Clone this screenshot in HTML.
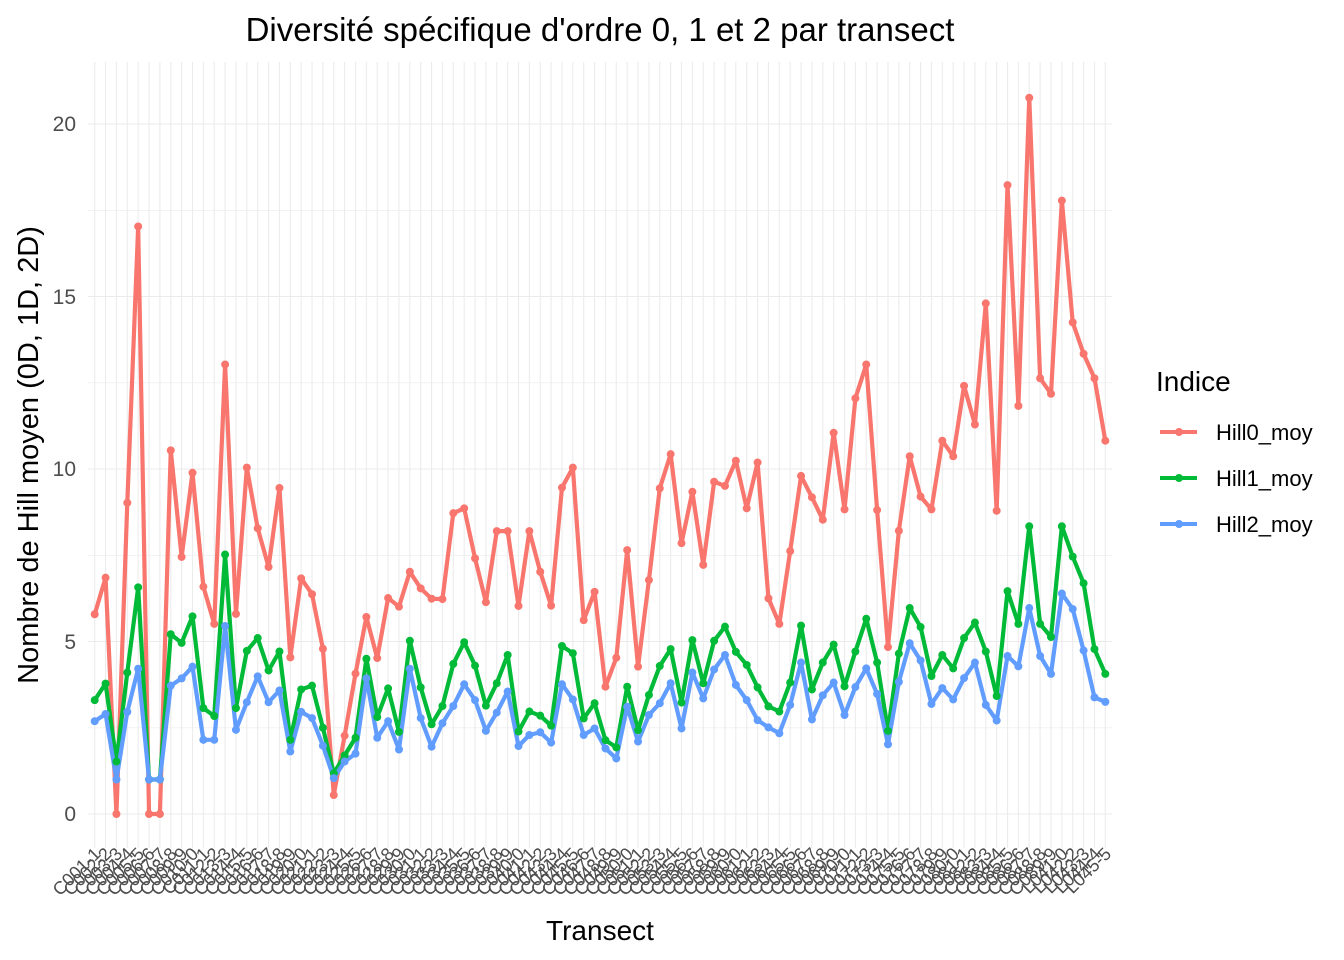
<!DOCTYPE html>
<html><head><meta charset="utf-8"><style>
html,body{margin:0;padding:0;background:#fff;}
svg{display:block;font-family:"Liberation Sans",Arial,sans-serif;}
</style></head><body>
<svg width="1344" height="960" viewBox="0 0 1344 960" xmlns="http://www.w3.org/2000/svg">
<defs>
<pattern id="vg" patternUnits="userSpaceOnUse" x="94.15" y="0" width="10.867" height="10">
<rect x="0" y="0" width="1.1" height="10" fill="#ebebeb"/>
</pattern>
</defs>
<rect width="1344" height="960" fill="#fff"/>
<g stroke="#ebebeb" stroke-width="0.55">
<line x1="88" x2="1112" y1="727.8" y2="727.8"/>
<line x1="88" x2="1112" y1="555.3" y2="555.3"/>
<line x1="88" x2="1112" y1="382.8" y2="382.8"/>
<line x1="88" x2="1112" y1="210.3" y2="210.3"/>
</g>
<g stroke="#ebebeb" stroke-width="1.1">
<line x1="88" x2="1112" y1="814" y2="814"/>
<line x1="88" x2="1112" y1="641.5" y2="641.5"/>
<line x1="88" x2="1112" y1="469" y2="469"/>
<line x1="88" x2="1112" y1="296.5" y2="296.5"/>
<line x1="88" x2="1112" y1="124" y2="124"/>
</g>
<rect x="94" y="62" width="1012" height="786" fill="url(#vg)"/>

<g transform="translate(94.7,814) scale(10.867,-34.5)" fill="none" stroke-linejoin="round">
<polyline vector-effect="non-scaling-stroke" stroke="#F8766D" stroke-width="4.2" points="0,5.79 1,6.85 2,0 3,9.02 4,17.03 5,0 6,0 7,10.54 8,7.45 9,9.89 10,6.59 11,5.51 12,13.03 13,5.8 14,10.04 15,8.28 16,7.16 17,9.45 18,4.54 19,6.83 20,6.37 21,4.79 22,0.55 23,2.27 24,4.07 25,5.71 26,4.52 27,6.26 28,6.01 29,7.02 30,6.54 31,6.24 32,6.23 33,8.72 34,8.86 35,7.41 36,6.14 37,8.2 38,8.2 39,6.03 40,8.2 41,7.02 42,6.04 43,9.46 44,10.04 45,5.62 46,6.44 47,3.69 48,4.53 49,7.65 50,4.27 51,6.78 52,9.44 53,10.43 54,7.85 55,9.34 56,7.22 57,9.63 58,9.51 59,10.24 60,8.86 61,10.19 62,6.25 63,5.51 64,7.62 65,9.8 66,9.18 67,8.53 68,11.05 69,8.83 70,12.05 71,13.03 72,8.81 73,4.84 74,8.21 75,10.37 76,9.2 77,8.83 78,10.82 79,10.37 80,12.41 81,11.29 82,14.8 83,8.79 84,18.23 85,11.83 86,20.76 87,12.63 88,12.18 89,17.78 90,14.25 91,13.34 92,12.63 93,10.82"/>
<polyline vector-effect="non-scaling-stroke" stroke="#00BA38" stroke-width="4.2" points="0,3.3 1,3.78 2,1.52 3,4.1 4,6.57 5,1.0 6,1.0 7,5.21 8,4.96 9,5.73 10,3.07 11,2.84 12,7.52 13,3.07 14,4.73 15,5.1 16,4.16 17,4.71 18,2.15 19,3.61 20,3.72 21,2.5 22,1.18 23,1.7 24,2.21 25,4.5 26,2.81 27,3.64 28,2.38 29,5.02 30,3.67 31,2.6 32,3.13 33,4.35 34,4.98 35,4.3 36,3.14 37,3.79 38,4.61 39,2.39 40,2.97 41,2.85 42,2.56 43,4.87 44,4.66 45,2.77 46,3.21 47,2.14 48,1.93 49,3.69 50,2.43 51,3.45 52,4.29 53,4.78 54,3.23 55,5.04 56,3.79 57,5.02 58,5.43 59,4.7 60,4.32 61,3.67 62,3.12 63,2.97 64,3.81 65,5.46 66,3.61 67,4.39 68,4.91 69,3.7 70,4.71 71,5.66 72,4.39 73,2.41 74,4.65 75,5.97 76,5.42 77,4.0 78,4.61 79,4.22 80,5.1 81,5.55 82,4.71 83,3.42 84,6.46 85,5.51 86,8.34 87,5.51 88,5.13 89,8.34 90,7.46 91,6.69 92,4.78 93,4.06"/>
<polyline vector-effect="non-scaling-stroke" stroke="#619CFF" stroke-width="4.2" points="0,2.69 1,2.9 2,1.0 3,2.96 4,4.21 5,1.0 6,1.0 7,3.72 8,3.93 9,4.27 10,2.15 11,2.15 12,5.45 13,2.44 14,3.24 15,3.99 16,3.24 17,3.58 18,1.81 19,2.96 20,2.78 21,1.98 22,1.04 23,1.52 24,1.75 25,3.93 26,2.21 27,2.69 28,1.87 29,4.21 30,2.78 31,1.95 32,2.63 33,3.13 34,3.76 35,3.3 36,2.41 37,2.94 38,3.55 39,1.97 40,2.29 41,2.37 42,2.07 43,3.76 44,3.32 45,2.29 46,2.48 47,1.9 48,1.61 49,3.11 50,2.1 51,2.87 52,3.21 53,3.79 54,2.48 55,4.1 56,3.35 57,4.19 58,4.61 59,3.74 60,3.3 61,2.72 62,2.51 63,2.34 64,3.16 65,4.39 66,2.74 67,3.44 68,3.81 69,2.87 70,3.68 71,4.22 72,3.48 73,2.02 74,3.83 75,4.95 76,4.45 77,3.19 78,3.65 79,3.32 80,3.94 81,4.39 82,3.16 83,2.71 84,4.58 85,4.28 86,5.97 87,4.58 88,4.06 89,6.39 90,5.94 91,4.74 92,3.38 93,3.25"/>
<g stroke-linecap="round" stroke-width="8">
<path vector-effect="non-scaling-stroke" stroke="#F8766D" d="M0 5.79h0M1 6.85h0M2 0h0M3 9.02h0M4 17.03h0M5 0h0M6 0h0M7 10.54h0M8 7.45h0M9 9.89h0M10 6.59h0M11 5.51h0M12 13.03h0M13 5.8h0M14 10.04h0M15 8.28h0M16 7.16h0M17 9.45h0M18 4.54h0M19 6.83h0M20 6.37h0M21 4.79h0M22 0.55h0M23 2.27h0M24 4.07h0M25 5.71h0M26 4.52h0M27 6.26h0M28 6.01h0M29 7.02h0M30 6.54h0M31 6.24h0M32 6.23h0M33 8.72h0M34 8.86h0M35 7.41h0M36 6.14h0M37 8.2h0M38 8.2h0M39 6.03h0M40 8.2h0M41 7.02h0M42 6.04h0M43 9.46h0M44 10.04h0M45 5.62h0M46 6.44h0M47 3.69h0M48 4.53h0M49 7.65h0M50 4.27h0M51 6.78h0M52 9.44h0M53 10.43h0M54 7.85h0M55 9.34h0M56 7.22h0M57 9.63h0M58 9.51h0M59 10.24h0M60 8.86h0M61 10.19h0M62 6.25h0M63 5.51h0M64 7.62h0M65 9.8h0M66 9.18h0M67 8.53h0M68 11.05h0M69 8.83h0M70 12.05h0M71 13.03h0M72 8.81h0M73 4.84h0M74 8.21h0M75 10.37h0M76 9.2h0M77 8.83h0M78 10.82h0M79 10.37h0M80 12.41h0M81 11.29h0M82 14.8h0M83 8.79h0M84 18.23h0M85 11.83h0M86 20.76h0M87 12.63h0M88 12.18h0M89 17.78h0M90 14.25h0M91 13.34h0M92 12.63h0M93 10.82h0"/>
<path vector-effect="non-scaling-stroke" stroke="#00BA38" d="M0 3.3h0M1 3.78h0M2 1.52h0M3 4.1h0M4 6.57h0M5 1.0h0M6 1.0h0M7 5.21h0M8 4.96h0M9 5.73h0M10 3.07h0M11 2.84h0M12 7.52h0M13 3.07h0M14 4.73h0M15 5.1h0M16 4.16h0M17 4.71h0M18 2.15h0M19 3.61h0M20 3.72h0M21 2.5h0M22 1.18h0M23 1.7h0M24 2.21h0M25 4.5h0M26 2.81h0M27 3.64h0M28 2.38h0M29 5.02h0M30 3.67h0M31 2.6h0M32 3.13h0M33 4.35h0M34 4.98h0M35 4.3h0M36 3.14h0M37 3.79h0M38 4.61h0M39 2.39h0M40 2.97h0M41 2.85h0M42 2.56h0M43 4.87h0M44 4.66h0M45 2.77h0M46 3.21h0M47 2.14h0M48 1.93h0M49 3.69h0M50 2.43h0M51 3.45h0M52 4.29h0M53 4.78h0M54 3.23h0M55 5.04h0M56 3.79h0M57 5.02h0M58 5.43h0M59 4.7h0M60 4.32h0M61 3.67h0M62 3.12h0M63 2.97h0M64 3.81h0M65 5.46h0M66 3.61h0M67 4.39h0M68 4.91h0M69 3.7h0M70 4.71h0M71 5.66h0M72 4.39h0M73 2.41h0M74 4.65h0M75 5.97h0M76 5.42h0M77 4.0h0M78 4.61h0M79 4.22h0M80 5.1h0M81 5.55h0M82 4.71h0M83 3.42h0M84 6.46h0M85 5.51h0M86 8.34h0M87 5.51h0M88 5.13h0M89 8.34h0M90 7.46h0M91 6.69h0M92 4.78h0M93 4.06h0"/>
<path vector-effect="non-scaling-stroke" stroke="#619CFF" d="M0 2.69h0M1 2.9h0M2 1.0h0M3 2.96h0M4 4.21h0M5 1.0h0M6 1.0h0M7 3.72h0M8 3.93h0M9 4.27h0M10 2.15h0M11 2.15h0M12 5.45h0M13 2.44h0M14 3.24h0M15 3.99h0M16 3.24h0M17 3.58h0M18 1.81h0M19 2.96h0M20 2.78h0M21 1.98h0M22 1.04h0M23 1.52h0M24 1.75h0M25 3.93h0M26 2.21h0M27 2.69h0M28 1.87h0M29 4.21h0M30 2.78h0M31 1.95h0M32 2.63h0M33 3.13h0M34 3.76h0M35 3.3h0M36 2.41h0M37 2.94h0M38 3.55h0M39 1.97h0M40 2.29h0M41 2.37h0M42 2.07h0M43 3.76h0M44 3.32h0M45 2.29h0M46 2.48h0M47 1.9h0M48 1.61h0M49 3.11h0M50 2.1h0M51 2.87h0M52 3.21h0M53 3.79h0M54 2.48h0M55 4.1h0M56 3.35h0M57 4.19h0M58 4.61h0M59 3.74h0M60 3.3h0M61 2.72h0M62 2.51h0M63 2.34h0M64 3.16h0M65 4.39h0M66 2.74h0M67 3.44h0M68 3.81h0M69 2.87h0M70 3.68h0M71 4.22h0M72 3.48h0M73 2.02h0M74 3.83h0M75 4.95h0M76 4.45h0M77 3.19h0M78 3.65h0M79 3.32h0M80 3.94h0M81 4.39h0M82 3.16h0M83 2.71h0M84 4.58h0M85 4.28h0M86 5.97h0M87 4.58h0M88 4.06h0M89 6.39h0M90 5.94h0M91 4.74h0M92 3.38h0M93 3.25h0"/>
</g>
</g>

<g fill="#4d4d4d" font-size="21" text-anchor="end">
<text x="76" y="821">0</text>
<text x="76" y="649">5</text>
<text x="76" y="476">10</text>
<text x="76" y="304">15</text>
<text x="76" y="131">20</text>
</g>

<g fill="#4d4d4d" font-size="18" text-anchor="end">
<text transform="translate(101.7,855) rotate(-45)">C001-1</text>
<text transform="translate(112.6,855) rotate(-45)">C002-2</text>
<text transform="translate(123.4,855) rotate(-45)">C003-3</text>
<text transform="translate(134.3,855) rotate(-45)">C004-4</text>
<text transform="translate(145.2,855) rotate(-45)">C005-5</text>
<text transform="translate(156.0,855) rotate(-45)">C006-6</text>
<text transform="translate(166.9,855) rotate(-45)">C007-7</text>
<text transform="translate(177.8,855) rotate(-45)">C008-8</text>
<text transform="translate(188.6,855) rotate(-45)">C009-9</text>
<text transform="translate(199.5,855) rotate(-45)">C010-0</text>
<text transform="translate(210.4,855) rotate(-45)">C011-1</text>
<text transform="translate(221.2,855) rotate(-45)">C012-2</text>
<text transform="translate(232.1,855) rotate(-45)">C013-3</text>
<text transform="translate(243.0,855) rotate(-45)">C014-4</text>
<text transform="translate(253.8,855) rotate(-45)">C015-5</text>
<text transform="translate(264.7,855) rotate(-45)">C016-6</text>
<text transform="translate(275.6,855) rotate(-45)">C017-7</text>
<text transform="translate(286.4,855) rotate(-45)">C018-8</text>
<text transform="translate(297.3,855) rotate(-45)">C019-9</text>
<text transform="translate(308.2,855) rotate(-45)">C020-0</text>
<text transform="translate(319.0,855) rotate(-45)">C021-1</text>
<text transform="translate(329.9,855) rotate(-45)">C022-2</text>
<text transform="translate(340.8,855) rotate(-45)">C023-3</text>
<text transform="translate(351.6,855) rotate(-45)">C024-4</text>
<text transform="translate(362.5,855) rotate(-45)">C025-5</text>
<text transform="translate(373.4,855) rotate(-45)">C026-6</text>
<text transform="translate(384.2,855) rotate(-45)">C027-7</text>
<text transform="translate(395.1,855) rotate(-45)">C028-8</text>
<text transform="translate(406.0,855) rotate(-45)">C029-9</text>
<text transform="translate(416.8,855) rotate(-45)">C030-0</text>
<text transform="translate(427.7,855) rotate(-45)">C031-1</text>
<text transform="translate(438.6,855) rotate(-45)">C032-2</text>
<text transform="translate(449.4,855) rotate(-45)">C033-3</text>
<text transform="translate(460.3,855) rotate(-45)">C034-4</text>
<text transform="translate(471.2,855) rotate(-45)">C035-5</text>
<text transform="translate(482.0,855) rotate(-45)">C036-6</text>
<text transform="translate(492.9,855) rotate(-45)">C037-7</text>
<text transform="translate(503.8,855) rotate(-45)">C038-8</text>
<text transform="translate(514.6,855) rotate(-45)">C039-9</text>
<text transform="translate(525.5,855) rotate(-45)">C040-0</text>
<text transform="translate(536.4,855) rotate(-45)">C041-1</text>
<text transform="translate(547.2,855) rotate(-45)">C042-2</text>
<text transform="translate(558.1,855) rotate(-45)">C043-3</text>
<text transform="translate(569.0,855) rotate(-45)">C044-4</text>
<text transform="translate(579.8,855) rotate(-45)">C045-5</text>
<text transform="translate(590.7,855) rotate(-45)">C046-6</text>
<text transform="translate(601.6,855) rotate(-45)">C047-7</text>
<text transform="translate(612.4,855) rotate(-45)">C048-8</text>
<text transform="translate(623.3,855) rotate(-45)">C049-9</text>
<text transform="translate(634.2,855) rotate(-45)">C050-0</text>
<text transform="translate(645.0,855) rotate(-45)">C051-1</text>
<text transform="translate(655.9,855) rotate(-45)">C052-2</text>
<text transform="translate(666.8,855) rotate(-45)">C053-3</text>
<text transform="translate(677.6,855) rotate(-45)">C054-4</text>
<text transform="translate(688.5,855) rotate(-45)">C055-5</text>
<text transform="translate(699.4,855) rotate(-45)">C056-6</text>
<text transform="translate(710.2,855) rotate(-45)">C057-7</text>
<text transform="translate(721.1,855) rotate(-45)">C058-8</text>
<text transform="translate(732.0,855) rotate(-45)">C059-9</text>
<text transform="translate(742.8,855) rotate(-45)">C060-0</text>
<text transform="translate(753.7,855) rotate(-45)">C061-1</text>
<text transform="translate(764.6,855) rotate(-45)">C062-2</text>
<text transform="translate(775.5,855) rotate(-45)">C063-3</text>
<text transform="translate(786.3,855) rotate(-45)">C064-4</text>
<text transform="translate(797.2,855) rotate(-45)">C065-5</text>
<text transform="translate(808.1,855) rotate(-45)">C066-6</text>
<text transform="translate(818.9,855) rotate(-45)">C067-7</text>
<text transform="translate(829.8,855) rotate(-45)">C068-8</text>
<text transform="translate(840.7,855) rotate(-45)">C069-9</text>
<text transform="translate(851.5,855) rotate(-45)">C070-0</text>
<text transform="translate(862.4,855) rotate(-45)">C071-1</text>
<text transform="translate(873.3,855) rotate(-45)">C072-2</text>
<text transform="translate(884.1,855) rotate(-45)">C073-3</text>
<text transform="translate(895.0,855) rotate(-45)">C074-4</text>
<text transform="translate(905.9,855) rotate(-45)">C075-5</text>
<text transform="translate(916.7,855) rotate(-45)">C076-6</text>
<text transform="translate(927.6,855) rotate(-45)">C077-7</text>
<text transform="translate(938.5,855) rotate(-45)">C078-8</text>
<text transform="translate(949.3,855) rotate(-45)">C079-9</text>
<text transform="translate(960.2,855) rotate(-45)">C080-0</text>
<text transform="translate(971.1,855) rotate(-45)">C081-1</text>
<text transform="translate(981.9,855) rotate(-45)">C082-2</text>
<text transform="translate(992.8,855) rotate(-45)">C083-3</text>
<text transform="translate(1003.7,855) rotate(-45)">C084-4</text>
<text transform="translate(1014.5,855) rotate(-45)">C085-5</text>
<text transform="translate(1025.4,855) rotate(-45)">C086-6</text>
<text transform="translate(1036.3,855) rotate(-45)">C087-7</text>
<text transform="translate(1047.1,855) rotate(-45)">C088-8</text>
<text transform="translate(1058.0,855) rotate(-45)">C089-9</text>
<text transform="translate(1068.9,855) rotate(-45)">L041-0</text>
<text transform="translate(1079.7,855) rotate(-45)">L042-2</text>
<text transform="translate(1090.6,855) rotate(-45)">L043-3</text>
<text transform="translate(1101.5,855) rotate(-45)">L044-4</text>
<text transform="translate(1112.3,855) rotate(-45)">L045-5</text>
</g>

<text x="600" y="41" font-size="33" text-anchor="middle" fill="#000">Diversité spécifique d'ordre 0, 1 et 2 par transect</text>
<text x="600" y="940" font-size="28" text-anchor="middle" fill="#000">Transect</text>
<text transform="translate(38,455) rotate(-90)" font-size="29" text-anchor="middle" fill="#000">Nombre de Hill moyen (0D, 1D, 2D)</text>

<text x="1156" y="391" font-size="28" fill="#000">Indice</text>
<g stroke-width="4" stroke-linecap="butt">
<line x1="1160" x2="1197" y1="432" y2="432" stroke="#F8766D"/>
<line x1="1160" x2="1197" y1="478" y2="478" stroke="#00BA38"/>
<line x1="1160" x2="1197" y1="524" y2="524" stroke="#619CFF"/>
</g>
<circle cx="1179" cy="432" r="4" fill="#F8766D"/>
<circle cx="1179" cy="478" r="4" fill="#00BA38"/>
<circle cx="1179" cy="524" r="4" fill="#619CFF"/>
<g font-size="22" fill="#000">
<text x="1216" y="440">Hill0_moy</text>
<text x="1216" y="486">Hill1_moy</text>
<text x="1216" y="532">Hill2_moy</text>
</g>
</svg>
</body></html>
